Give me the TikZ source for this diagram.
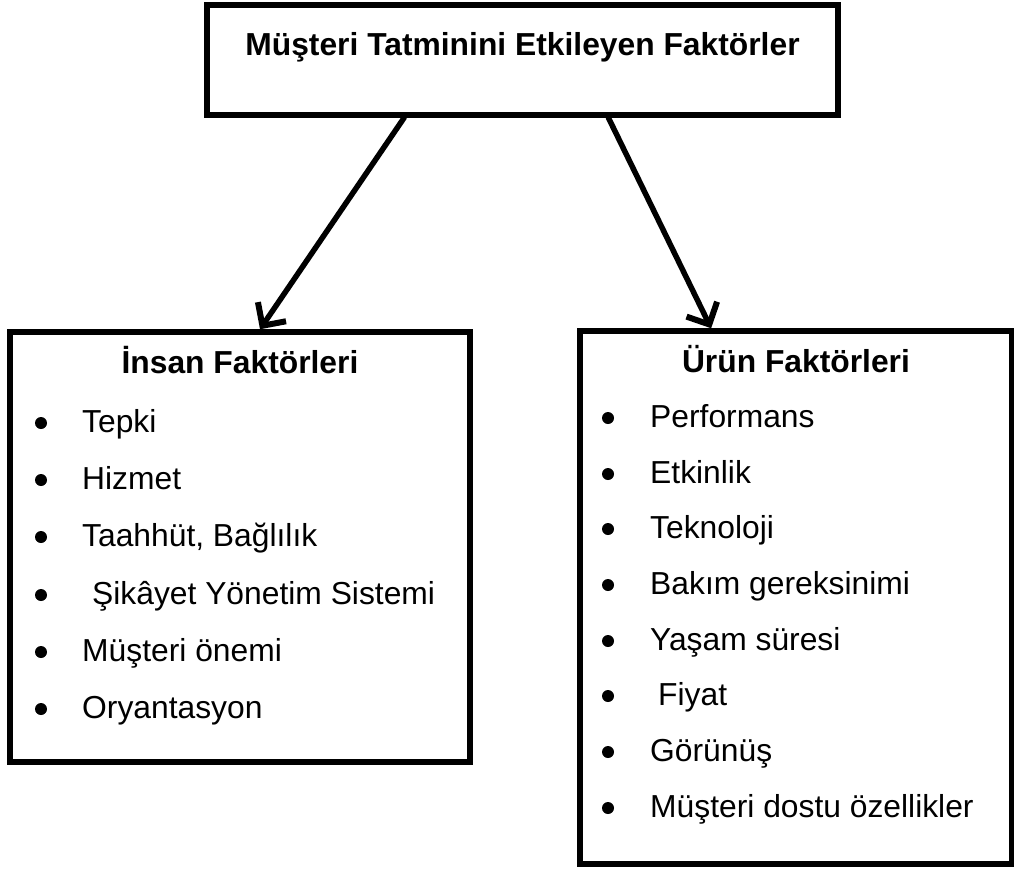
\documentclass[tikz,border=0pt]{standalone}
\usepackage{fontspec}
\setmainfont{Liberation Sans}
\usetikzlibrary{arrows.meta,calc}
\begin{document}
\begin{tikzpicture}[x=1pt,y=-1pt,
  box/.style={draw=black,line width=5.5pt,rectangle,inner sep=0pt},
  head/.style={font=\bfseries,anchor=base},
  item/.style={anchor=base west,inner sep=0pt},
  dot/.style={circle,fill=black,inner sep=0pt,minimum size=12pt},
  link/.style={line width=5.5pt,line cap=round,-{Straight Barb[length=17pt,width=34pt,line width=6pt]}}]
\useasboundingbox (0,0) rectangle (1014,868);
\fontsize{31.8}{38}\selectfont
% boxes
\node[box,minimum width=631pt,minimum height=110pt] (top) at (522.5,60) {};
\node[box,minimum width=460pt,minimum height=430pt] (human) at (240,547) {};
\node[box,minimum width=432pt,minimum height=533pt] (product) at (796,597.5) {};
% headings
\node[head] (tt) at (522.5,55) {Müşteri Tatminini Etkileyen Faktörler};
\node[head] (ht) at (240,373) {İnsan Faktörleri};
\node[head] (pt) at (796,372) {Ürün Faktörleri};
% left list
\foreach \n/\y/\x/\t in {1/432/82/Tepki,2/489/82/Hizmet,3/546/82/{Taahhüt, Bağlılık},4/604/92/{Şikâyet Yönetim Sistemi},5/661/82/Müşteri önemi,6/718/82/Oryantasyon}{
  \node[dot] (hb\n) at (41,\y-9) {};
  \node[item] (hi\n) at (\x,\y) {\t};
}
% right list
\foreach \n/\y/\x/\t in {1/427/650/Performans,2/483/650/Etkinlik,3/538/650/Teknoloji,4/594/650/Bakım gereksinimi,5/650/650/Yaşam süresi,6/705/658/Fiyat,7/761/650/Görünüş,8/817/650/Müşteri dostu özellikler}{
  \node[dot] (pb\n) at (608,\y-9) {};
  \node[item] (pi\n) at (\x,\y) {\t};
}
% connectors
\draw[link] ($(top.south west)!0.314!(top.south east)$) -- ($(human.north west)!0.543!(human.north east)$);
\draw[link] ($(top.south west)!0.635!(top.south east)$) -- ($(product.north west)!0.306!(product.north east)$);
\end{tikzpicture}
\end{document}
